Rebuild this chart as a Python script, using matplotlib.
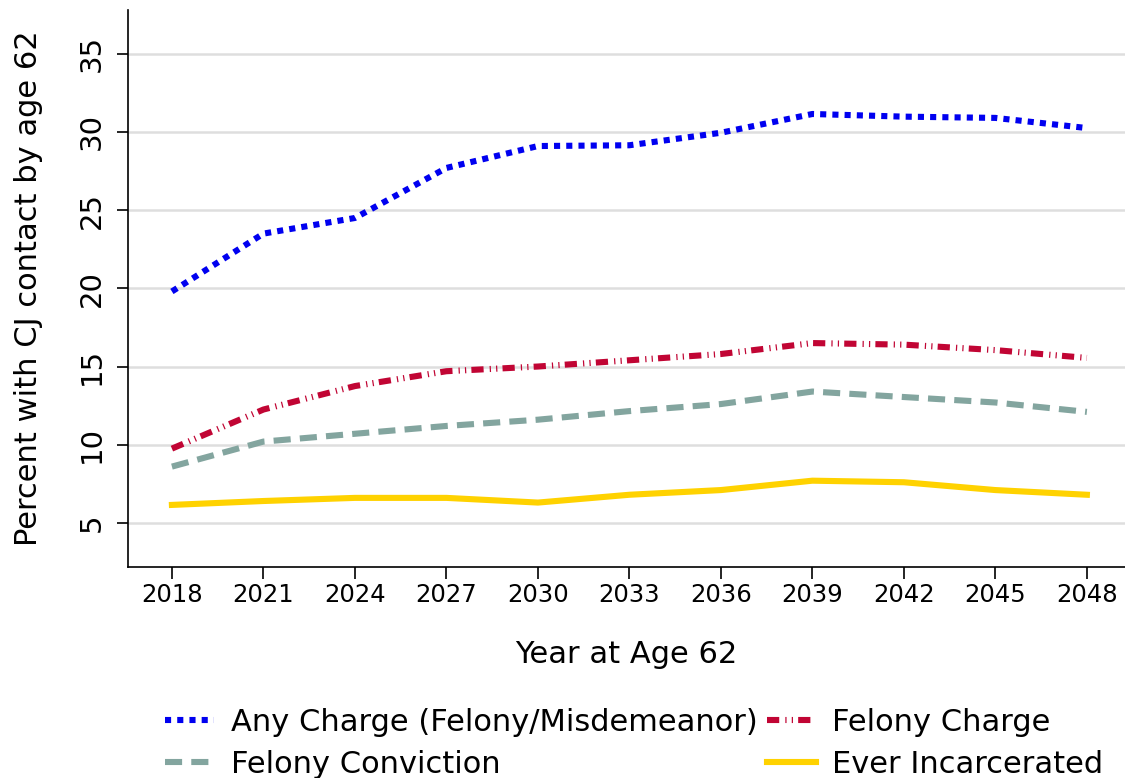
import numpy as np
import matplotlib
matplotlib.use("Agg")
import matplotlib.pyplot as plt

years = [2018, 2021, 2024, 2027, 2030, 2033, 2036, 2039, 2042, 2045, 2048]
any_charge = [19.8, 23.5, 24.5, 27.7, 29.1, 29.15, 29.95, 31.15, 30.98, 30.9, 30.25]
felony_charge = [9.75, 12.25, 13.75, 14.7, 15.0, 15.4, 15.8, 16.5, 16.4, 16.05, 15.55]
felony_conviction = [8.6, 10.2, 10.7, 11.2, 11.6, 12.15, 12.6, 13.4, 13.05, 12.7, 12.1]
ever_incarcerated = [6.15, 6.4, 6.6, 6.6, 6.3, 6.8, 7.1, 7.7, 7.6, 7.1, 6.8]

labels = ["Any Charge (Felony/Misdemeanor)", "Felony Charge",
          "Felony Conviction", "Ever Incarcerated"]
colors = ["#0000f0", "#c10534", "#83a59f", "#ffd200"]
yticks = [5, 10, 15, 20, 25, 30, 35]

plt.rcParams['font.family'] = ['DejaVu Sans']
fig = plt.figure(figsize=(11.25, 7.78), dpi=100)
ax = fig.add_axes([128/1125, 1-567/778, 1-128/1125, (567-10)/778])

lw = 4.4
l1, = ax.plot(years, any_charge, color=colors[0], lw=lw)
l1.set_dashes((1.0, 1.0))
l2, = ax.plot(years, felony_charge, color=colors[1], lw=lw)
l2.set_dashes((2.0, 1.0, 0.2, 0.85, 0.2, 0.85))
l3, = ax.plot(years, felony_conviction, color=colors[2], lw=lw)
l3.set_dashes((2.8, 1.5))
l4, = ax.plot(years, ever_incarcerated, color=colors[3], lw=lw)
for l in (l1, l2, l3, l4):
    l.set_dash_capstyle('butt')

ax.set_xlim(2016.56, 2049.25)
ax.set_ylim(2.18, 37.8)
ax.set_xticks(years)
ax.set_yticks(yticks)
ax.tick_params(axis='x', labelsize=17.5, length=8.5, width=1.2, pad=3)
ax.tick_params(axis='y', labelsize=21, length=8, width=1.2, pad=8)
for t in ax.get_yticklabels():
    t.set_rotation(90)
    t.set_va('center')
ax.grid(axis='y', color='#dedede', lw=1.8)
ax.set_axisbelow(True)
ax.spines['top'].set_visible(False)
ax.spines['right'].set_visible(False)
ax.spines['left'].set_linewidth(1.2)
ax.spines['bottom'].set_linewidth(1.2)

ax.set_ylabel("Percent with CJ contact by age 62", fontsize=22, labelpad=25)
ax.set_xlabel("Year at Age 62", fontsize=22, labelpad=24)

# legend filled column by column, so order gives rows as in the reference
leg = fig.legend([l1, l3, l2, l4], [labels[0], labels[2], labels[1], labels[3]],
                 loc='upper left', ncol=2,
                 bbox_to_anchor=(165/1125, 1-708/778), frameon=False, fontsize=22,
                 handlelength=1.6, columnspacing=0.3, labelspacing=0.42,
                 handletextpad=0.55, borderpad=0, borderaxespad=0)

fig.savefig("out.png", dpi=100)
